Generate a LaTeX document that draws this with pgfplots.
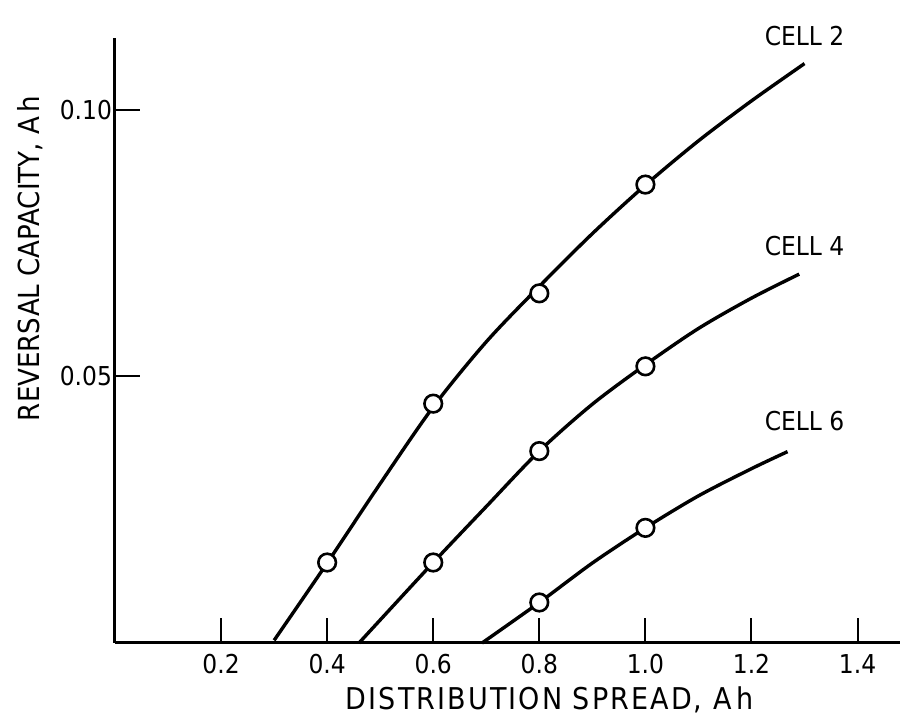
\documentclass[border=0pt]{standalone}
\usepackage{fontspec}
\setmainfont{DejaVu Sans Condensed}
\usepackage{pgfplots}
\pgfplotsset{compat=1.18}

\begin{document}
\begin{tikzpicture}[x=1pt,y=1pt]
\useasboundingbox (-57.5,-39.5) rectangle (393,321.5);
\begin{axis}[
  at={(0,0)}, anchor=origin,
  scale only axis, width=392.5pt, height=302.5pt,
  xmin=0, xmax=1.48, ymin=0, ymax=0.1135,
  axis lines=left, axis line style={-, line width=1.5pt},
  clip=false,
  xtick={0.2,0.4,0.6,0.8,1.0,1.2,1.4},
  xticklabels={\mbox{0.2},\mbox{0.4},\mbox{0.6},\mbox{0.8},\mbox{1.0},\mbox{1.2},\mbox{1.4}},
  ytick={0.05,0.10},
  yticklabels={\mbox{0.05},\mbox{0.10}},
  tick align=inside, major tick length=12.5pt,
  tick style={line width=1pt, black},
  tick label style={font=\fontsize{13}{15}\selectfont},
  xticklabel style={yshift=-2pt},
  yticklabel style={xshift=2pt},
  xlabel={DISTRIBUTION SPREAD, A\,h},
  ylabel={REVERSAL CAPACITY, A\,h},
  xlabel style={at={(axis description cs:0.554,0)}, anchor=center, yshift=-28.5pt,
    font=\fontsize{15}{17}\selectfont\addfontfeature{LetterSpace=7}},
  ylabel style={at={(axis description cs:-0.1083,0.636)}, anchor=center,
    font=\fontsize{14.5}{17}\selectfont},
  every axis plot/.append style={line width=1.7pt, black},
]
% Cell 2
\addplot[smooth, no marks] coordinates {
  (0.30,0.0005) (0.40,0.0150) (0.50,0.0299) (0.60,0.0443) (0.70,0.0565)
  (0.80,0.0669) (0.90,0.0768) (1.00,0.0859) (1.10,0.0942) (1.20,0.1017) (1.30,0.1087)
};
\addplot[only marks, mark=*, mark size=4.4pt, mark options={fill=white, line width=1.3pt}] coordinates {
  (0.40,0.0151) (0.60,0.0449) (0.80,0.0656) (1.00,0.0860)
};
% Cell 4
\addplot[smooth, no marks] coordinates {
  (0.46,0.0) (0.60,0.0151) (0.70,0.0256) (0.80,0.0360) (0.90,0.0448)
  (1.00,0.0522) (1.10,0.0590) (1.20,0.0647) (1.29,0.0692)
};
\addplot[only marks, mark=*, mark size=4.4pt, mark options={fill=white, line width=1.3pt}] coordinates {
  (0.60,0.0151) (0.80,0.0360) (1.00,0.0519)
};
% Cell 6
\addplot[smooth, no marks] coordinates {
  (0.692,0.0) (0.80,0.0076) (0.90,0.0150) (1.00,0.0216) (1.10,0.0276)
  (1.20,0.0327) (1.268,0.0359)
};
\addplot[only marks, mark=*, mark size=4.4pt, mark options={fill=white, line width=1.3pt}] coordinates {
  (0.80,0.0076) (1.00,0.0216)
};
\node[font=\fontsize{13}{15}\selectfont] at (axis cs:1.30,0.1139) {CELL 2};
\node[font=\fontsize{13}{15}\selectfont] at (axis cs:1.30,0.0744) {CELL 4};
\node[font=\fontsize{13}{15}\selectfont] at (axis cs:1.30,0.0417) {CELL 6};
\end{axis}
\end{tikzpicture}
\end{document}
